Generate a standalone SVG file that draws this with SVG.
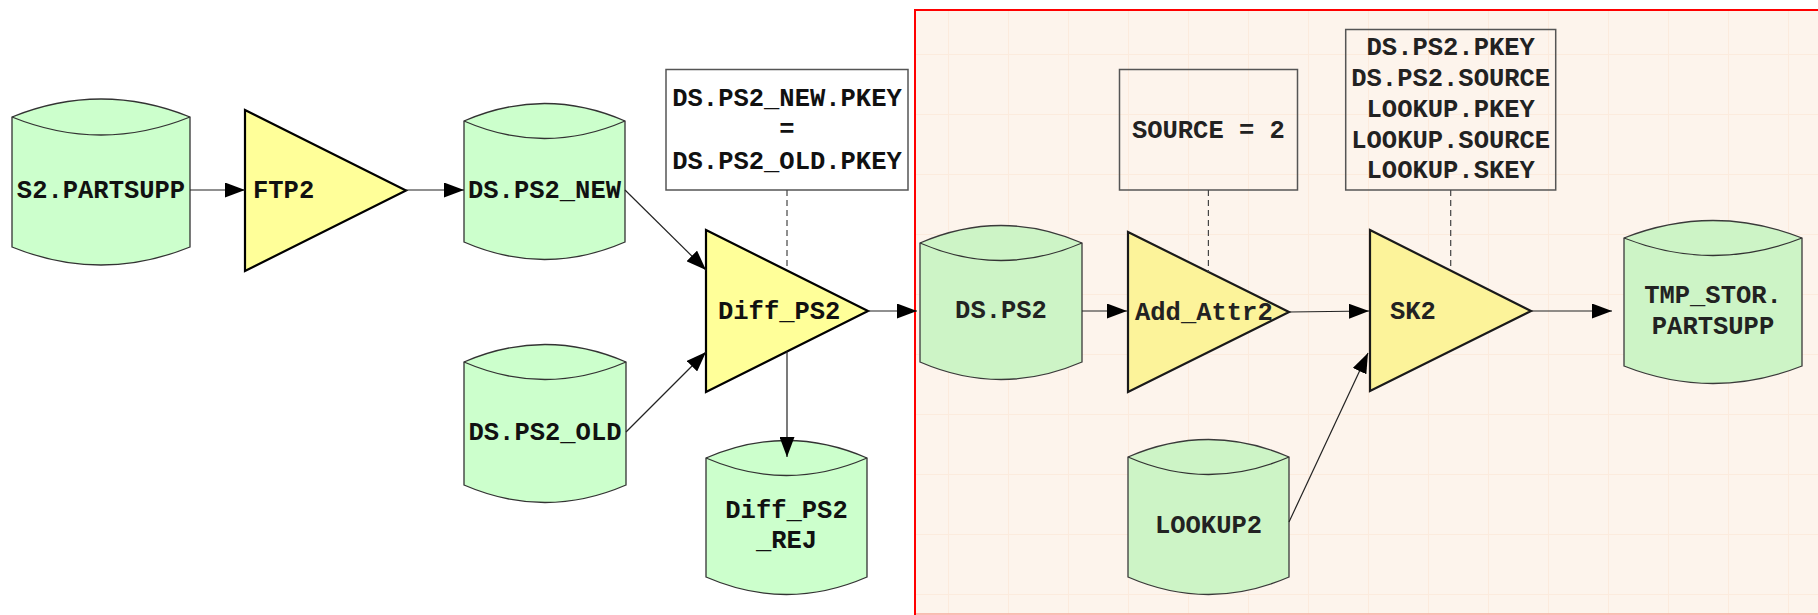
<svg xmlns="http://www.w3.org/2000/svg" width="1818" height="615" viewBox="0 0 1818 615">
  <style>
    .lbl { font-family: "Liberation Mono", "Courier New", monospace; font-weight: bold; font-size: 25.5px; fill: #111; }
    .mid { text-anchor: middle; }
    .zone .lbl { fill: #222; }
    .db { fill: #ccffcc; stroke: #333; stroke-width: 1.3; }
    .db-in { fill: none; stroke: #333; stroke-width: 1.3; }
    .zone .db { fill: #cdf4c6; stroke: #3a3a3a; }
    .op { fill: #ffff99; stroke: #000; stroke-width: 2.2; stroke-linejoin: miter; }
    .zone .op { fill: #fcf39a; stroke: #1a1a1a; }
    .note { fill: #fff; stroke: #555; stroke-width: 1.5; }
    .zone .note { fill: none; }
    .edge { fill: none; stroke: #222; stroke-width: 1.2; marker-end: url(#arrow); }
    .link { fill: none; stroke: #444; stroke-width: 1.2; stroke-dasharray: 6 4; }
  </style>
  <defs>
    <marker id="arrow" viewBox="0 0 20 15" refX="20" refY="7.5" markerWidth="20" markerHeight="15" markerUnits="userSpaceOnUse" orient="auto">
      <path d="M0,0 L20,7.5 L0,15 Z" fill="#000"/>
    </marker>
    <pattern id="grid" patternUnits="userSpaceOnUse" x="48" y="54" width="60" height="60">
      <path d="M0,0.5 H60 M0.5,0 V60" fill="none" stroke="#fcebdd" stroke-width="1"/>
    </pattern>
  </defs>

  <!-- background -->
  <rect x="0" y="0" width="1818" height="615" fill="#fff"/>

  <!-- staging area -->
  <g id="zone-frame">
    <rect x="915" y="10" width="905" height="604" fill="#fdf4ec"/>
    <rect x="915" y="10" width="905" height="604" fill="url(#grid)"/>
    <line x1="915" y1="614" x2="1818" y2="614" stroke="#f7a99c" stroke-width="1.5"/>
    <path d="M915,615 V10 H1818" fill="none" stroke="#ff0000" stroke-width="2"/>
  </g>

  <!-- sources and first stage -->
  <g id="s2-partsupp">
    <path class="db" d="M12,117 Q101,81 190,117 L190,247 Q101,283 12,247 Z"/>
    <path class="db-in" d="M12,117 Q101,153 190,117"/>
    <text class="lbl mid" x="101" y="197.5">S2.PARTSUPP</text>
  </g>
  <g id="ftp2">
    <path class="op" d="M245,110 L406,190.5 L245,271 Z"/>
    <text class="lbl" x="253" y="197.5">FTP2</text>
  </g>
  <g id="ds-ps2-new">
    <path class="db" d="M464,121 Q544.5,86 625,121 L625,242 Q544.5,277 464,242 Z"/>
    <path class="db-in" d="M464,121 Q544.5,156 625,121"/>
    <text class="lbl mid" x="544.5" y="197.5">DS.PS2_NEW</text>
  </g>
  <g id="ds-ps2-old">
    <path class="db" d="M464,362 Q545,327 626,362 L626,485 Q545,520 464,485 Z"/>
    <path class="db-in" d="M464,362 Q545,397 626,362"/>
    <text class="lbl mid" x="545" y="439.5">DS.PS2_OLD</text>
  </g>
  <g id="diff-ps2-cond">
    <rect class="note" x="666" y="69.5" width="242" height="120.5"/>
    <text class="lbl mid" x="787" y="105.5">DS.PS2_NEW.PKEY</text>
    <text class="lbl mid" x="787" y="137">=</text>
    <text class="lbl mid" x="787" y="168.5">DS.PS2_OLD.PKEY</text>
  </g>
  <g id="diff-ps2">
    <path class="op" d="M706,230 L868,311 L706,392 Z"/>
    <text class="lbl" x="718" y="318.5">Diff_PS2</text>
  </g>
  <g id="diff-ps2-rej">
    <path class="db" d="M706,458 Q786.5,423 867,458 L867,577 Q786.5,612 706,577 Z"/>
    <path class="db-in" d="M706,458 Q786.5,493 867,458"/>
    <text class="lbl mid" x="786.5" y="517.5">Diff_PS2</text>
    <text class="lbl mid" x="786.5" y="547.5">_REJ</text>
  </g>

  <!-- staging area nodes -->
  <g class="zone">
    <g id="ds-ps2">
      <path class="db" d="M920,243 Q1001,208 1082,243 L1082,362 Q1001,397 920,362 Z"/>
      <path class="db-in" d="M920,243 Q1001,278 1082,243"/>
      <text class="lbl mid" x="1001" y="318">DS.PS2</text>
    </g>
    <g id="add-attr2-cond">
      <rect class="note" x="1119.5" y="69.5" width="178" height="120.5"/>
      <text class="lbl mid" x="1208.4" y="137.5">SOURCE = 2</text>
    </g>
    <g id="add-attr2">
      <path class="op" d="M1128,232 L1289,312 L1128,392 Z"/>
      <text class="lbl" x="1135" y="319.5">Add_Attr2</text>
    </g>
    <g id="lookup2">
      <path class="db" d="M1128,457 Q1208.5,422 1289,457 L1289,577 Q1208.5,612 1128,577 Z"/>
      <path class="db-in" d="M1128,457 Q1208.5,492 1289,457"/>
      <text class="lbl mid" x="1208.5" y="533">LOOKUP2</text>
    </g>
    <g id="sk2-cond">
      <rect class="note" x="1345.7" y="29.5" width="210" height="160.5"/>
      <text class="lbl mid" x="1450.7" y="55">DS.PS2.PKEY</text>
      <text class="lbl mid" x="1450.7" y="86">DS.PS2.SOURCE</text>
      <text class="lbl mid" x="1450.7" y="117">LOOKUP.PKEY</text>
      <text class="lbl mid" x="1450.7" y="148">LOOKUP.SOURCE</text>
      <text class="lbl mid" x="1450.7" y="178">LOOKUP.SKEY</text>
    </g>
    <g id="sk2">
      <path class="op" d="M1370,230 L1531,311 L1370,391 Z"/>
      <text class="lbl" x="1390" y="318.5">SK2</text>
    </g>
    <g id="tmp-stor-partsupp">
      <path class="db" d="M1624,238 Q1713,203 1802,238 L1802,366 Q1713,401 1624,366 Z"/>
      <path class="db-in" d="M1624,238 Q1713,273 1802,238"/>
      <text class="lbl mid" x="1713" y="302.5">TMP_STOR.</text>
      <text class="lbl mid" x="1713" y="333.5">PARTSUPP</text>
    </g>
  </g>

  <!-- connectors, drawn last so arrowheads sit on top of the shapes -->
  <g id="connectors">
    <path class="edge" d="M190,190 H245"/>
    <path class="edge" d="M406,190 H464"/>
    <path class="edge" d="M625,190 L706,270"/>
    <path class="edge" d="M626,432 L706,352"/>
    <path class="edge" d="M868,311 H917"/>
    <path class="edge" d="M787,351 V457"/>
    <path class="edge" d="M1082,311 H1127"/>
    <path class="edge" d="M1289,312 L1369,311"/>
    <path class="edge" d="M1289,522 L1368,353"/>
    <path class="edge" d="M1531,311 H1612"/>
    <path class="link" d="M787,190 V270"/>
    <path class="link" d="M1208.4,190 V272"/>
    <path class="link" d="M1450.7,190 V270"/>
  </g>
</svg>
